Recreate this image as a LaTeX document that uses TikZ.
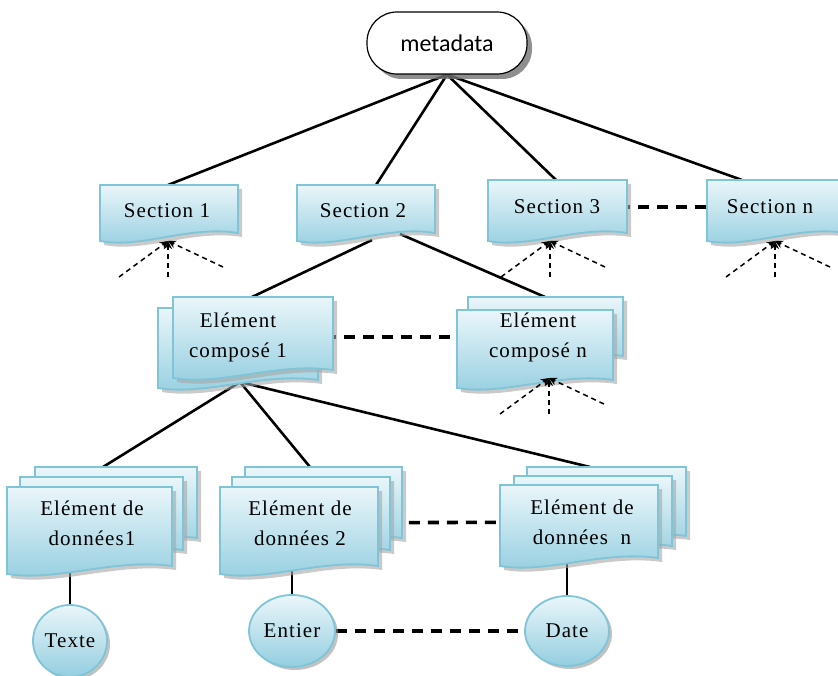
\documentclass[tikz,border=0pt]{standalone}
\usepackage{fontspec}
\usetikzlibrary{shapes.geometric}
\usetikzlibrary{arrows.meta}
\usetikzlibrary{shadows}
\newfontfamily\boxfont[LetterSpace=5]{Liberation Serif}
\newfontfamily\metafont{Carlito}
\definecolor{boxline}{RGB}{128,196,216}
\definecolor{boxtop}{RGB}{234,246,250}
\definecolor{boxbot}{RGB}{148,206,224}
\pgfdeclarelayer{bg}
\pgfsetlayers{bg,main}
\tikzset{
	link/.style = {line width = 2.6pt},
	dlink/.style = {line width = 3.6pt, dash pattern = on 11pt off 8pt},
	fan/.style = {line width = 1.5pt, dash pattern = on 5pt off 4pt, -{Stealth[length = 8pt, width = 8pt]}},
	sheet/.style = {draw = boxline, line width = 1.8pt, top color = boxtop, bottom color = boxbot},
	sheetshadow/.style = {fill = black!35, opacity = 0.6},
	boxtext/.style = {font = \boxfont\fontsize{21}{30}\selectfont, align = center, inner sep = 0pt},
	bubble/.style = {ellipse, draw = boxline, line width = 1.8pt, top color = boxtop, bottom color = boxbot,
		drop shadow = {shadow xshift = 3pt, shadow yshift = -3pt, fill = black!40, opacity = 0.6},
		font = \boxfont\fontsize{21}{24}\selectfont, inner sep = 0pt}
}
% one sheet with a wavy bottom: x1, y1, x2, lowest y
\newcommand{\docsheet}[4]{%
	\fill[sheetshadow] ({#1+4}, {#2+4}) -- ({#3+4}, {#2+4}) -- ({#3+4}, {#4-8})
		.. controls ({#3-0.35*(#3-#1)+4}, {#4-16}) and ({#1+0.3*(#3-#1)+4}, {#4+8}) .. ({#1+4}, {#4}) -- cycle;
	\draw[sheet] (#1, #2) -- (#3, #2) -- (#3, {#4-12})
		.. controls ({#3-0.35*(#3-#1)}, {#4-20}) and ({#1+0.3*(#3-#1)}, {#4+4}) .. (#1, {#4-4}) -- cycle;
}
\begin{document}
\begin{tikzpicture}[x = 1pt, y = -1pt]
	\useasboundingbox (0, 0) rectangle (838, 676);
	% sections
	\docsheet{100}{185}{238}{245}
	\docsheet{297}{185}{435}{245}
	\docsheet{488}{180}{627}{245}
	\docsheet{707}{180}{846}{245}
	% composite elements
	\docsheet{158}{308}{318}{392}
	\docsheet{173}{297}{333}{382}
	\docsheet{468}{297}{623}{368}
	\docsheet{457}{310}{613}{392}
	% data elements
	\docsheet{35}{467}{197}{550}
	\docsheet{20}{477}{183}{562}
	\docsheet{7}{487}{172}{578}
	\docsheet{245}{467}{402}{550}
	\docsheet{232}{477}{390}{562}
	\docsheet{220}{487}{378}{578}
	\docsheet{527}{467}{686}{548}
	\docsheet{514}{476}{672}{558}
	\docsheet{500}{485}{658}{570}

	\node[draw, line width = 1.2pt, fill = white, rounded corners = 30pt, minimum width = 160pt, minimum height = 62pt,
		drop shadow = {shadow xshift = 5pt, shadow yshift = -5pt, fill = black!55, opacity = 0.8},
		font = \metafont\fontsize{24}{26}\selectfont] (meta) at (447, 43) {metadata};
	\node[boxtext] (s1) at (167, 211) {Section 1};
	\node[boxtext] (s2) at (363, 211) {Section 2};
	\node[boxtext] (s3) at (557, 207) {Section 3};
	\node[boxtext] (sn) at (770, 207) {Section n};
	\node[boxtext] (c1) at (238, 337) {Elément\\composé 1};
	\node[boxtext] (cn) at (538, 337) {Elément\\composé n};
	\node[boxtext] (d1) at (92, 523) {Elément de\\données1};
	\node[boxtext] (d2) at (300, 523) {Elément de\\données 2};
	\node[boxtext] (dn) at (582, 522) {Elément de\\données \ n};
	\node[bubble, minimum width = 74pt, minimum height = 72pt] (t1) at (70, 641) {Texte};
	\node[bubble, minimum width = 86pt, minimum height = 72pt] (e1) at (292, 631) {Entier};
	\node[bubble, minimum width = 84pt, minimum height = 70pt] (date) at (567, 631) {Date};

	\begin{pgfonlayer}{bg}
		\draw[link] (meta.south) -- ([shift = {(1, -26)}]s1.center);
		\draw[link] (meta.south) -- ([shift = {(13, -26)}]s2.center);
		\draw[link] (meta.south) -- ([shift = {(-1, -27)}]s3.center);
		\draw[link] (meta.south) -- ([shift = {(-28, -27)}]sn.center);
		\draw[link] ([shift = {(9, 29)}]s2.center) -- ([shift = {(14, -40)}]c1.center);
		\draw[link] ([shift = {(37, 23)}]s2.center) -- ([shift = {(7, -40)}]cn.center);
		\draw[link] ([shift = {(2, 45)}]c1.center) -- ([shift = {(11, -56)}]d1.center);
		\draw[link] ([shift = {(2, 45)}]c1.center) -- ([shift = {(10, -56)}]d2.center);
		\draw[link] ([shift = {(2, 45)}]c1.center) -- ([shift = {(8, -55)}]dn.center);
		\draw[link] (t1.north) -- (t1.north |- d1);
		\draw[link] (e1.north) -- (e1.north |- d2);
		\draw[link] (date.north) -- (date.north |- dn);
		\draw[dlink] (s3) -- (sn);
		\draw[dlink] (c1) -- (cn);
		\draw[dlink] (d2) -- (dn);
		\draw[dlink] (e1) -- (date);
	\end{pgfonlayer}

	\foreach \n/\sx/\sy in {s1/1/30, s3/-7/34, sn/5/34, cn/11/41}
		\foreach \dx/\dy in {-49/36, 0/36, 55/26}
			\draw[fan] ([shift = {({\sx+(\dx)}, {\sy+(\dy)})}]\n.center) -- ([shift = {(\sx, \sy)}]\n.center);
\end{tikzpicture}
\end{document}
